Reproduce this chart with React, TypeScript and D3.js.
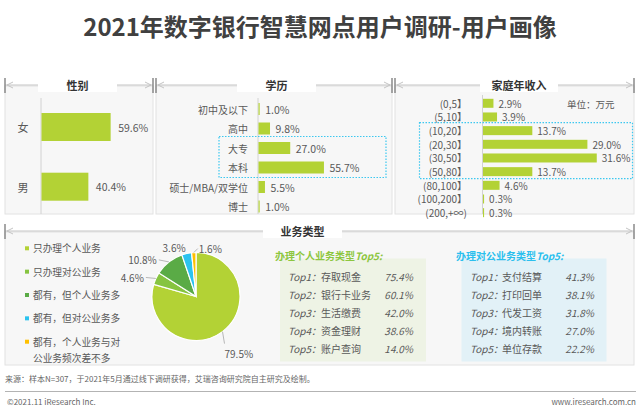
import React from 'react';
import * as d3 from 'd3';

const genderCats = ['女', '男'];
const genderVals = [59.6, 40.4];
const eduCats = ['初中及以下', '高中', '大专', '本科', '硕士/MBA/双学位', '博士'];
const eduVals = [1.0, 9.8, 27.0, 55.7, 5.5, 1.0];
const incomeCats = ['(0,5】', '(5,10】', '(10,20】', '(20,30】', '(30,50】', '(50,80】', '(80,100】', '(100,200】', '(200,+∞)'];
const incomeVals = [2.9, 3.9, 13.7, 29.0, 31.6, 13.7, 4.6, 0.3, 0.3];
const bizCats = ['只办理个人业务', '只办理对公业务', '都有，但个人业务多', '都有，但对公业务多', '都有，个人业务与对公业务频次差不多'];
const bizVals = [79.5, 4.6, 10.8, 3.6, 1.6];
const personalRanks = ['Top1', 'Top2', 'Top3', 'Top4', 'Top5'];
const personalNames = ['存取现金', '银行卡业务', '生活缴费', '资金理财', '账户查询'];
const personalVals = [75.4, 60.1, 42.0, 38.6, 14.0];
const corpRanks = ['Top1', 'Top2', 'Top3', 'Top4', 'Top5'];
const corpNames = ['支付结算', '打印回单', '代发工资', '境内转账', '单位存款'];
const corpVals = [41.3, 38.1, 31.8, 27.0, 22.2];

const FONT = '"Noto Sans CJK SC", "Microsoft YaHei", sans-serif';
const BAR = '#b3d235';
const TXT = '#595959';
const BLUE = '#3cc8f0';
const pieColors = ['#b3d235', '#86c440', '#5aab46', '#2bc3ef', '#ffc000'];

function band(cats: string[], firstCenter: number, step: number, barH: number) {
  const p = 1 - barH / step;
  return d3.scaleBand<string>().domain(cats)
    .range([firstCenter - step / 2, firstCenter - step / 2 + step * cats.length])
    .paddingInner(p).paddingOuter(p / 2);
}

function Header({ x0, x1, y, label, cx, boxW }: any) {
  return (
    <g>
      <line x1={x0} x2={x1} y1={y} y2={y} stroke="#c4c4c4" strokeWidth={1} />
      <polyline points={`${x0 + 8},${y - 3} ${x0 + 2},${y} ${x0 + 8},${y + 3}`} fill="none" stroke="#c4c4c4" strokeWidth={1} />
      <polyline points={`${x1 - 8},${y - 3} ${x1 - 2},${y} ${x1 - 8},${y + 3}`} fill="none" stroke="#c4c4c4" strokeWidth={1} />
      <line x1={x0} x2={x0} y1={y - 7} y2={y + 8} stroke="#8a8a8a" strokeWidth={1.5} />
      <line x1={x1} x2={x1} y1={y - 7} y2={y + 8} stroke="#8a8a8a" strokeWidth={1.5} />
      <rect x={cx - boxW / 2} y={y - 8} width={boxW} height={15} fill="#ffffff" />
      <text x={cx} y={y} textAnchor="middle" dominantBaseline="central" fontSize={11} fontWeight="bold" fill="#333">{label}</text>
    </g>
  );
}

function BarPanel({ cats, vals, base, pxPer, yb, labelX, anchor, labelSize, valueSize, gap, axisTop }: any) {
  const x = d3.scaleLinear().domain([0, 100]).range([base, base + pxPer * 100]);
  return (
    <g>
      <line x1={base} x2={base} y1={axisTop} y2={214} stroke="#d2d2d2" strokeWidth={1} />
      {cats.map((c: string, i: number) => {
        const y = yb(c)!;
        const h = yb.bandwidth();
        return (
          <g key={c}>
            <rect x={x(0) + 0.5} y={y} width={Math.max(x(vals[i]) - x(0), 1)} height={h} fill={BAR} />
            <text x={labelX} y={y + h / 2} textAnchor={anchor} dominantBaseline="central" fontSize={labelSize} fill={TXT}>{c}</text>
            <text x={x(vals[i]) + gap} y={y + h / 2} dominantBaseline="central" fontSize={valueSize} fill={TXT}>{vals[i].toFixed(1)}%</text>
          </g>
        );
      })}
    </g>
  );
}

export default function App() {
  const gY = band(genderCats, 127, 59.7, 28);
  const eY = band(eduCats, 109, 19.5, 12);
  const iY = band(incomeCats, 103.3, 13.67, 9);

  const pcx = 196, pcy = 296.5, pr = 44;
  const pie = d3.pie<number>().sort(null).startAngle(0).endAngle(2 * Math.PI)(bizVals);
  const arc = d3.arc<any>().innerRadius(0).outerRadius(pr);
  const pt = (a: number, r: number) => [pcx + r * Math.sin(a), pcy - r * Math.cos(a)];
  const labelLayout = [
    { l: [2, 12], t: [0, 10], a: 'start' },
    { l: [-10, -1], t: [-2, 0], a: 'end' },
    { l: [-10, -2], t: [-2, 0], a: 'end' },
    { l: [0, 0], t: [-1, -6], a: 'end' },
    { l: [4, -4], t: [1, 0], a: 'start' },
  ];

  const legY = d3.scalePoint<string>().domain(bizCats).range([248.3, 341.7]);
  const topY = d3.scalePoint<string>().domain(personalRanks).range([276.7, 348.3]);
  const topY2 = d3.scalePoint<string>().domain(corpRanks).range([276.7, 348.3]);

  const eduBoxTop = eY('大专')! - 5.5, eduBoxBot = eY('本科')! + eY.bandwidth() + 4;
  const incBoxTop = iY('(10,20】')! - 3.5, incBoxBot = iY('(50,80】')! + iY.bandwidth() + 2.5;

  return (
    <svg width={641} height={411} style={{ position: 'absolute', left: 0, top: 0, fontFamily: FONT }}>
      <rect width={641} height={411} fill="#ffffff" />
      <text x={320} y={25} textAnchor="middle" dominantBaseline="central" fontSize={24} fontWeight="bold" fill="#404040">2021年数字银行智慧网点用户调研-用户画像</text>

      <rect x={5} y={86} width={148} height={128} fill="#f7f7f7" stroke="#e2e2e2" />
      <rect x={156} y={86} width={236} height={128} fill="#f7f7f7" stroke="#e2e2e2" />
      <rect x={395} y={86} width={239} height={128} fill="#f7f7f7" stroke="#e2e2e2" />
      <Header x0={5} x1={153} y={85} label="性别" cx={77.5} boxW={79} />
      <Header x0={156} x1={392} y={85} label="学历" cx={276.5} boxW={79} />
      <Header x0={395} x1={634} y={85} label="家庭年收入" cx={519} boxW={78} />

      <BarPanel cats={genderCats} vals={genderVals} base={41} pxPer={1.16} yb={gY} labelX={23} anchor="middle" labelSize={11} valueSize={10.5} gap={8} axisTop={98} />
      <BarPanel cats={eduCats} vals={eduVals} base={258} pxPer={1.175} yb={eY} labelX={248} anchor="end" labelSize={10} valueSize={10.5} gap={6} axisTop={98} />
      <BarPanel cats={incomeCats} vals={incomeVals} base={482.5} pxPer={3.6} yb={iY} labelX={467} anchor="end" labelSize={10} valueSize={10} gap={5.5} axisTop={95} />
      <text x={567} y={103.5} dominantBaseline="central" fontSize={9.5} fill={TXT}>单位：万元</text>

      <rect x={219} y={eduBoxTop} width={167} height={eduBoxBot - eduBoxTop} fill="none" stroke={BLUE} strokeWidth={1.2} strokeDasharray="1.5 1.5" />
      <rect x={419.5} y={incBoxTop} width={213} height={incBoxBot - incBoxTop} fill="none" stroke={BLUE} strokeWidth={1.2} strokeDasharray="1.5 1.5" />

      <rect x={5} y={232} width={629} height={133} fill="#f7f7f7" stroke="#e2e2e2" />
      <Header x0={5} x1={634} y={231} label="业务类型" cx={302.5} boxW={79} />

      {bizCats.map((c, i) => {
        const y = legY(c)!;
        const lines = c.length > 9 ? [c.slice(0, 9), c.slice(9)] : [c];
        return (
          <g key={c}>
            <rect x={25} y={y - 2} width={4} height={4} fill={pieColors[i]} />
            {lines.map((ln, j) => (
              <text key={j} x={33} y={y + j * 16.7} dominantBaseline="central" fontSize={9.7} fill={TXT}>{ln}</text>
            ))}
          </g>
        );
      })}

      <g>
        {pie.map((d, i) => (
          <path key={i} d={arc(d)!} transform={`translate(${pcx},${pcy})`} fill={pieColors[i]} stroke="#ffffff" strokeWidth={1.2} />
        ))}
        {pie.map((d, i) => {
          const mid = (d.startAngle + d.endAngle) / 2;
          const [px, py] = pt(mid, pr);
          const L = labelLayout[i];
          const ex = px + L.l[0], ey = py + L.l[1];
          return (
            <g key={'l' + i}>
              {(L.l[0] !== 0 || L.l[1] !== 0) && <line x1={px} y1={py} x2={ex} y2={ey} stroke="#a6a6a6" strokeWidth={0.8} />}
              <text x={ex + L.t[0]} y={ey + L.t[1]} textAnchor={L.a as any} dominantBaseline="central" fontSize={10} fill={TXT}>{bizVals[i].toFixed(1)}%</text>
            </g>
          );
        })}
      </g>

      <rect x={280} y={258.5} width={146} height={103} fill="#eef3e5" />
      <text x={275} y={255} dominantBaseline="central" fontSize={10} fontWeight="bold" fill="#8dc63f">办理个人业务类型<tspan fontStyle="italic">Top5:</tspan></text>
      {personalRanks.map((r, i) => {
        const y = topY(r)!;
        return (
          <g key={r}>
            <text x={288} y={y} dominantBaseline="central" fontSize={10} fill={TXT} fontStyle="italic">{r}：</text>
            <text x={321} y={y} dominantBaseline="central" fontSize={10} fill={TXT}>{personalNames[i]}</text>
            <text x={413} y={y} textAnchor="end" dominantBaseline="central" fontSize={10} fill={TXT} fontStyle="italic">{personalVals[i].toFixed(1)}%</text>
          </g>
        );
      })}

      <rect x={461.5} y={258.5} width={145} height={103} fill="#e2f1f7" />
      <text x={456} y={255} dominantBaseline="central" fontSize={10} fontWeight="bold" fill="#2bbfee">办理对公业务类型<tspan fontStyle="italic">Top5:</tspan></text>
      {corpRanks.map((r, i) => {
        const y = topY2(r)!;
        return (
          <g key={r}>
            <text x={470} y={y} dominantBaseline="central" fontSize={10} fill={TXT} fontStyle="italic">{r}：</text>
            <text x={502} y={y} dominantBaseline="central" fontSize={10} fill={TXT}>{corpNames[i]}</text>
            <text x={594} y={y} textAnchor="end" dominantBaseline="central" fontSize={10} fill={TXT} fontStyle="italic">{corpVals[i].toFixed(1)}%</text>
          </g>
        );
      })}

      <text x={5} y={378} dominantBaseline="central" fontSize={8} fill="#666">来源：样本N=307，于2021年5月通过线下调研获得，艾瑞咨询研究院自主研究及绘制。</text>
      <line x1={5} x2={636} y1={391.5} y2={391.5} stroke="#a0a0a0" strokeWidth={0.8} />
      <text x={7} y={401} dominantBaseline="central" fontSize={8} fill="#666">©2021.11 iResearch Inc.</text>
      <text x={636} y={401} textAnchor="end" dominantBaseline="central" fontSize={8} fill="#666">www.iresearch.com.cn</text>
    </svg>
  );
}
